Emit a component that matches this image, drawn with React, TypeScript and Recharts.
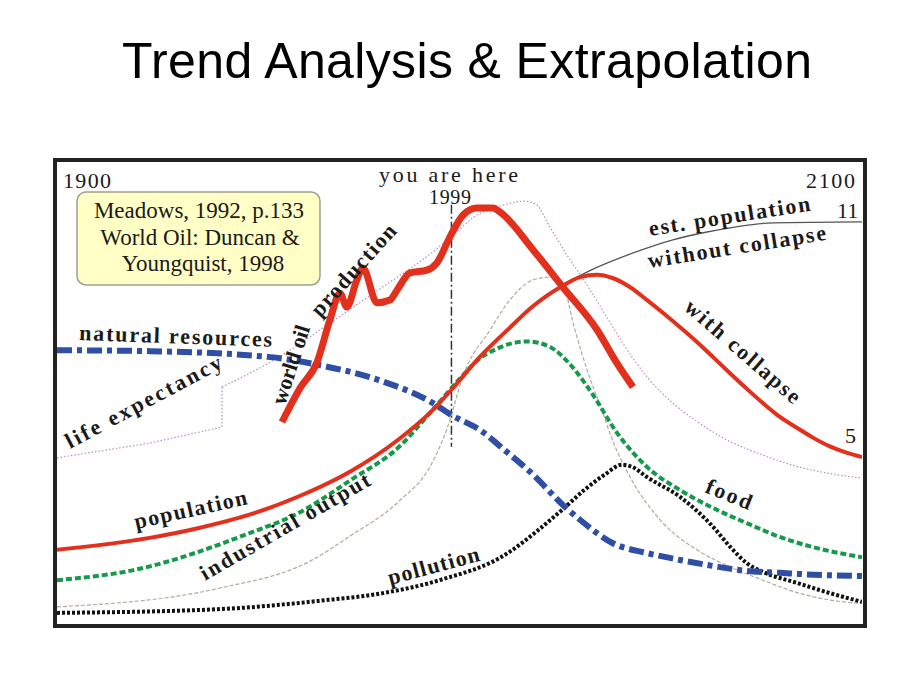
import React from 'react';
import { LineChart, Line, XAxis, YAxis, ReferenceLine } from 'recharts';

const naturalResources = [
  { year: 1900, v: 59.3 }, { year: 1923, v: 59.1 }, { year: 1953, v: 57.8 }, { year: 1965, v: 56.1 },
  { year: 1980, v: 52.8 }, { year: 1993, v: 48.0 }, { year: 1998, v: 45.2 }, { year: 2005, v: 42.0 },
  { year: 2012, v: 37.0 }, { year: 2018, v: 32.5 }, { year: 2026, v: 25.4 }, { year: 2030, v: 22.4 },
  { year: 2038, v: 17.4 }, { year: 2046.6, v: 15.2 }, { year: 2054.8, v: 13.7 }, { year: 2063, v: 12.4 },
  { year: 2071.4, v: 11.3 }, { year: 2079.6, v: 10.9 }, { year: 2088, v: 10.5 }, { year: 2100, v: 10.2 },
];

const population = [
  { year: 1900, v: 15.9 }, { year: 1923, v: 18.5 }, { year: 1935, v: 20.6 }, { year: 1948, v: 23.6 },
  { year: 1960, v: 27.5 }, { year: 1973, v: 33.0 }, { year: 1985, v: 40.0 }, { year: 1993, v: 46.0 },
  { year: 1998, v: 50.7 }, { year: 2005, v: 57.8 }, { year: 2012.5, v: 64.2 }, { year: 2018, v: 68.7 },
  { year: 2026, v: 73.5 }, { year: 2030, v: 75.2 }, { year: 2034.2, v: 75.7 }, { year: 2038, v: 75.0 },
  { year: 2042.4, v: 73.0 }, { year: 2046.6, v: 70.2 }, { year: 2050.6, v: 67.4 }, { year: 2054.8, v: 64.3 },
  { year: 2059, v: 61.1 }, { year: 2063, v: 57.8 }, { year: 2067.2, v: 54.3 }, { year: 2071.4, v: 50.9 },
  { year: 2075.4, v: 47.8 }, { year: 2079.6, v: 44.8 }, { year: 2083.9, v: 42.4 }, { year: 2087.8, v: 40.3 },
  { year: 2092, v: 38.4 }, { year: 2096.3, v: 37.0 }, { year: 2100, v: 36.1 },
];

const estPopulation = [
  { year: 2005, v: 57.8 }, { year: 2012.5, v: 64.2 }, { year: 2018, v: 68.7 }, { year: 2026, v: 73.6 },
  { year: 2032.4, v: 76.6 }, { year: 2043, v: 80.4 }, { year: 2053, v: 83.3 }, { year: 2061.5, v: 85.0 },
  { year: 2078, v: 87.0 }, { year: 2100, v: 87.2 },
];

const food = [
  { year: 1900, v: 9.3 }, { year: 1919, v: 11.5 }, { year: 1948, v: 19.6 }, { year: 1960, v: 23.9 },
  { year: 1973, v: 31.1 }, { year: 1985, v: 38.3 }, { year: 1993, v: 46.0 }, { year: 2001, v: 54.0 },
  { year: 2005, v: 57.5 }, { year: 2009, v: 59.5 }, { year: 2013, v: 60.8 }, { year: 2017, v: 61.2 },
  { year: 2022.5, v: 60.0 }, { year: 2028, v: 55.7 }, { year: 2033, v: 49.8 }, { year: 2039, v: 41.5 },
  { year: 2046.6, v: 33.9 }, { year: 2054.8, v: 28.9 }, { year: 2063, v: 25.0 }, { year: 2071.4, v: 21.7 },
  { year: 2079.6, v: 18.7 }, { year: 2087.8, v: 16.5 }, { year: 2100, v: 14.3 },
];

const industrialOutput = [
  { year: 1900, v: 3.5 }, { year: 1940, v: 7.5 }, { year: 1963, v: 13.5 }, { year: 1973, v: 19.0 },
  { year: 1985, v: 26.5 }, { year: 1993, v: 34.5 }, { year: 1997, v: 42.5 }, { year: 2001, v: 54.0 },
  { year: 2007.6, v: 63.7 }, { year: 2012.5, v: 70.2 }, { year: 2018.3, v: 74.6 }, { year: 2022.5, v: 75.2 },
  { year: 2025.7, v: 73.5 }, { year: 2028.5, v: 64.3 }, { year: 2031.7, v: 55.0 }, { year: 2035.7, v: 45.5 },
  { year: 2037.9, v: 40.0 }, { year: 2042.4, v: 31.7 }, { year: 2050.6, v: 21.7 }, { year: 2059, v: 15.9 },
  { year: 2067.2, v: 12.2 }, { year: 2075.4, v: 9.3 }, { year: 2083.9, v: 6.6 }, { year: 2092, v: 5.0 },
  { year: 2100, v: 4.2 },
];

const pollution = [
  { year: 1900, v: 2.2 }, { year: 1940, v: 3.0 }, { year: 1965, v: 4.8 }, { year: 1981, v: 6.5 },
  { year: 1995, v: 9.3 }, { year: 2012, v: 15.2 }, { year: 2019, v: 19.8 }, { year: 2026, v: 25.0 },
  { year: 2031, v: 28.9 }, { year: 2036, v: 32.2 }, { year: 2040.4, v: 34.4 }, { year: 2043, v: 33.9 },
  { year: 2046.6, v: 31.7 }, { year: 2054.8, v: 27.4 }, { year: 2063, v: 20.9 }, { year: 2067.2, v: 16.6 },
  { year: 2071.4, v: 13.0 }, { year: 2075.4, v: 11.1 }, { year: 2083.9, v: 8.7 }, { year: 2092, v: 6.5 },
  { year: 2100, v: 4.6 },
];

// life expectancy has a vertical step, so it is drawn in two pieces
const lifeEarly = [
  { year: 1900, v: 35.9 }, { year: 1923, v: 39.1 }, { year: 1941, v: 42.6 }, { year: 1941, v: 51.3 },
];
const lifeLate = [
  { year: 1941, v: 51.3 }, { year: 1953, v: 56.7 }, { year: 1970, v: 66.5 }, { year: 1980, v: 72.5 },
  { year: 1993, v: 80.4 }, { year: 1998, v: 84.0 }, { year: 2004, v: 88.5 }, { year: 2010, v: 90.6 },
  { year: 2016, v: 91.7 }, { year: 2019, v: 91.0 }, { year: 2022.5, v: 86.0 }, { year: 2026.7, v: 80.0 },
  { year: 2032.4, v: 72.5 }, { year: 2036.6, v: 66.5 }, { year: 2040.6, v: 60.8 }, { year: 2046.6, v: 53.5 },
  { year: 2053, v: 47.8 }, { year: 2059, v: 43.8 }, { year: 2066, v: 40.0 }, { year: 2075.4, v: 36.5 },
  { year: 2084, v: 34.0 }, { year: 2092, v: 32.5 }, { year: 2100, v: 31.5 },
];

const worldOil = [
  { year: 1955.9, v: 43.7 }, { year: 1960.4, v: 51.1 }, { year: 1964.6, v: 56.7 }, { year: 1967.8, v: 65.9 },
  { year: 1970.3, v: 71.7 }, { year: 1972, v: 68.7 }, { year: 1974.5, v: 74.6 }, { year: 1976, v: 77.2 },
  { year: 1979.5, v: 69.6 }, { year: 1982.7, v: 70.2 }, { year: 1984.5, v: 72.4 }, { year: 1987.7, v: 76.1 },
  { year: 1991.9, v: 76.7 }, { year: 1994.4, v: 78.3 }, { year: 1997.6, v: 83.9 }, { year: 2000.9, v: 88.7 },
  { year: 2004.3, v: 90.2 }, { year: 2008.3, v: 90.2 }, { year: 2010.1, v: 89.3 }, { year: 2018.3, v: 81.1 },
  { year: 2025.7, v: 73.0 }, { year: 2034.2, v: 63.7 }, { year: 2039.1, v: 56.5 }, { year: 2043.1, v: 51.3 },
];

const RED = '#e3301d';
const serif = '"Liberation Serif", "Times New Roman", serif';

type Lbl = { t: string; x: number; y: number; a: number; len: number };

const curveLabels: Lbl[] = [
  { t: 'natural resources', x: 79, y: 340, a: 2, len: 193 },
  { t: 'life expectancy', x: 70, y: 449, a: -28, len: 174 },
  { t: 'world oil', x: 285, y: 406, a: -72, len: 82 },
  { t: 'production', x: 320, y: 318, a: -48, len: 116 },
  { t: 'est. population', x: 650, y: 236, a: -9, len: 163 },
  { t: 'without collapse', x: 649, y: 268, a: -9, len: 180 },
  { t: 'with collapse', x: 683, y: 309, a: 41, len: 146 },
  { t: 'population', x: 136, y: 529, a: -12.5, len: 115 },
  { t: 'industrial output', x: 205, y: 581, a: -30, len: 193 },
  { t: 'pollution', x: 390, y: 585, a: -15, len: 94 },
  { t: 'food', x: 704, y: 492, a: 22, len: 48 },
];

const line = { dot: false, activeDot: false, isAnimationActive: false, dataKey: 'v' } as const;

export default function App() {
  return (
    <div style={{ position: 'absolute', left: 0, top: 0, width: 920, height: 690, background: '#fff' }}>
      {/* frame */}
      <div
        style={{
          position: 'absolute', left: 53, top: 158, width: 806, height: 462,
          border: '4px solid #222', boxSizing: 'content-box',
        }}
      />
      <div style={{ position: 'absolute', left: 0, top: 0 }}>
        <LineChart width={920} height={690} margin={{ top: 163, right: 58, bottom: 67, left: 57 }}>
          <XAxis type="number" dataKey="year" domain={[1900, 2100]} hide allowDataOverflow />
          <YAxis type="number" domain={[0, 100]} hide allowDataOverflow />
          <ReferenceLine
            segment={[{ x: 1998, y: 90.9 }, { x: 1998, y: 38.3 }]}
            stroke="#333" strokeWidth={1.5} strokeDasharray="9 3 2 3"
          />
          <Line {...line} id="lifeA" data={lifeEarly} type="linear" stroke="#b98cc6" strokeWidth={1.2} strokeDasharray="1.5 2" />
          <Line {...line} id="lifeB" data={lifeLate} type="monotone" stroke="#b98cc6" strokeWidth={1.2} strokeDasharray="1.5 2" />
          <Line {...line} id="ind" data={industrialOutput} type="monotone" stroke="#b5a99b" strokeWidth={1.2} strokeDasharray="4 2" />
          <Line {...line} id="est" data={estPopulation} type="monotone" stroke="#555" strokeWidth={1.3} />
          <Line {...line} id="poll" data={pollution} type="monotone" stroke="#111" strokeWidth={4} strokeDasharray="3 2" />
          <Line {...line} id="food" data={food} type="monotone" stroke="#15994a" strokeWidth={4} strokeDasharray="6 3" />
          <Line {...line} id="nat" data={naturalResources} type="monotone" stroke="#2f4fa6" strokeWidth={6} strokeDasharray="15 5 5 5" />
          <Line {...line} id="pop" data={population} type="monotone" stroke={RED} strokeWidth={4} />
          <Line {...line} id="oil" data={worldOil} type="monotone" stroke={RED} strokeWidth={7} />
        </LineChart>
      </div>
      <svg width={920} height={690} style={{ position: 'absolute', left: 0, top: 0, pointerEvents: 'none' }}>
        <text
          x={467} y={78} textAnchor="middle" textLength={690} lengthAdjust="spacing"
          fontFamily='"Liberation Sans", Arial, sans-serif' fontSize={50} fill="#000"
        >
          Trend Analysis &amp; Extrapolation
        </text>
        <g fontFamily={serif} fill="#1a1a1a">
          <text x={63} y={188} fontSize={22} textLength={48}>1900</text>
          <text x={806} y={188} fontSize={22} textLength={49}>2100</text>
          <text x={379} y={182} fontSize={22} textLength={139}>you are here</text>
          <text x={429} y={204} fontSize={20} textLength={42}>1999</text>
          <text x={837} y={218} fontSize={22}>11</text>
          <text x={845} y={443} fontSize={22}>5</text>
          <rect x={77} y={192} width={243} height={93} rx={9} fill="#ffffc6" stroke="#a0a090" strokeWidth={1.5} />
          <text x={199} y={218} fontSize={23} textAnchor="middle">Meadows, 1992, p.133</text>
          <text x={200} y={245} fontSize={23} textAnchor="middle">World Oil: Duncan &amp;</text>
          <text x={203} y={271} fontSize={23} textAnchor="middle">Youngquist, 1998</text>
          {curveLabels.map((l) => (
            <text
              key={l.t}
              x={l.x}
              y={l.y}
              fontFamily={serif}
              fontSize={22}
              fontWeight="bold"
              textLength={l.len}
              lengthAdjust="spacing"
              transform={`rotate(${l.a} ${l.x} ${l.y})`}
            >
              {l.t}
            </text>
          ))}
        </g>
      </svg>
    </div>
  );
}
